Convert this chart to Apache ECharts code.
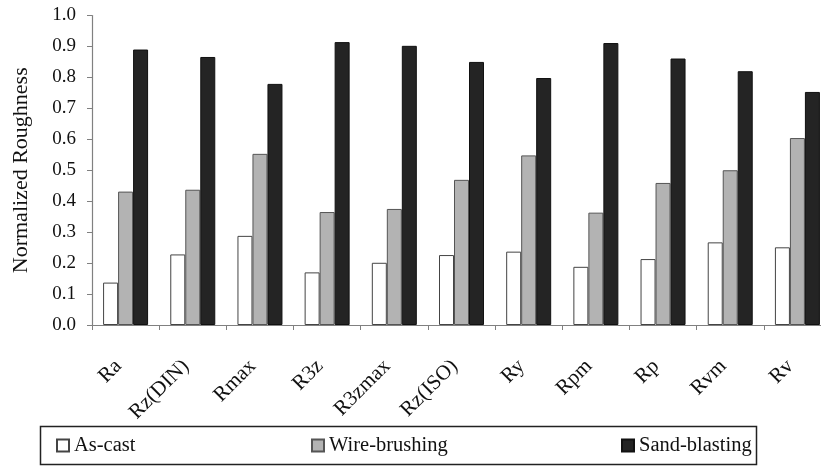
<!DOCTYPE html>
<html><head><meta charset="utf-8">
<script src="https://cdn.jsdelivr.net/npm/echarts@6/dist/echarts.min.js"></script>
<style>html,body{margin:0;padding:0;background:#fff;overflow:hidden}#c{width:831px;height:467px}</style>
</head><body><div id="c"></div>
<script>
const categories = ['Ra','Rz(DIN)','Rmax','R3z','R3zmax','Rz(ISO)','Ry','Rpm','Rp','Rvm','Rv'];
const asCast = [0.137,0.228,0.288,0.170,0.201,0.226,0.237,0.188,0.213,0.267,0.251];
const wireBrushing = [0.431,0.437,0.553,0.365,0.375,0.469,0.548,0.363,0.459,0.500,0.604];
const sandBlasting = [0.890,0.866,0.779,0.914,0.902,0.850,0.798,0.911,0.861,0.820,0.753];
const yTicks = ['0.0','0.1','0.2','0.3','0.4','0.5','0.6','0.7','0.8','0.9','1.0'];

const F = 'Liberation Serif, Times New Roman, serif';
const chart = echarts.init(document.getElementById('c'));
function lg(name, left){
  return {data:[name], left:left, top:435, orient:'horizontal', itemWidth:12, itemHeight:12, itemGap:0,
    icon:'rect', selectedMode:false, textStyle:{fontFamily:F, fontSize:20.5, color:'#111'}, padding:0};
}
chart.setOption({
  animation:false,
  grid:{left:92, right:0, top:15.5, bottom:142, containLabel:false},
  legend:[lg('As-cast',56), lg('Wire-brushing',311), lg('Sand-blasting',621)],
  graphic:[{type:'rect', shape:{x:40.5, y:426.5, width:716, height:38}, style:{fill:'none', stroke:'#222', lineWidth:1.5}}],
  xAxis:{type:'category', data:categories,
    axisLine:{lineStyle:{color:'#808080', width:1.2}},
    axisTick:{show:true, length:5, lineStyle:{color:'#808080'}},
    axisLabel:{rotate:45, fontFamily:F, fontSize:21, color:'#111', margin:31, padding:[0,10,0,0]}},
  yAxis:{type:'value', min:0, max:1, interval:0.1,
    name:'Normalized Roughness', nameLocation:'middle', nameGap:60,
    nameTextStyle:{fontFamily:F, fontSize:22, color:'#111'},
    axisLine:{show:true, lineStyle:{color:'#808080', width:1.2}},
    axisTick:{show:true, length:5, lineStyle:{color:'#808080'}},
    splitLine:{show:false},
    axisLabel:{fontFamily:F, fontSize:19, color:'#111', margin:16,
      formatter:(v)=>yTicks[Math.round(v*10)]}},
  series:[
    {name:'As-cast', type:'bar', data:asCast, barWidth:15, barGap:'0%',
      itemStyle:{color:'#ffffff', borderColor:'#444', borderWidth:1}},
    {name:'Wire-brushing', type:'bar', data:wireBrushing, barWidth:15, barGap:'0%',
      itemStyle:{color:'#b3b3b3', borderColor:'#555', borderWidth:1}},
    {name:'Sand-blasting', type:'bar', data:sandBlasting, barWidth:15, barGap:'0%',
      itemStyle:{color:'#242424', borderColor:'#111', borderWidth:1}}
  ]
});
</script></body></html>
